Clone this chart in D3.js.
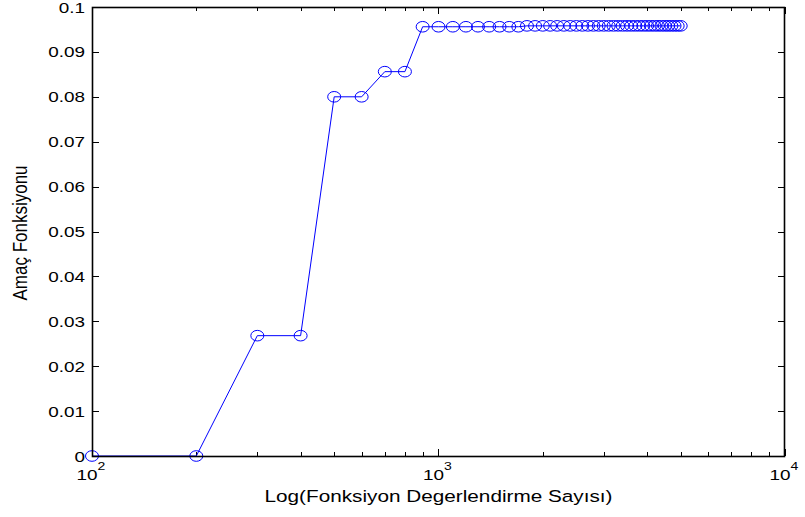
<!DOCTYPE html>
<html>
<head>
<meta charset="utf-8">
<script src="https://cdn.jsdelivr.net/npm/d3@7"></script>
<style>
  html, body { margin: 0; padding: 0; background: #fff; }
  svg { display: block; font-family: "Liberation Sans", Arial, Helvetica, sans-serif; }
</style>
</head>
<body>
<svg id="chart" width="805" height="517"></svg>
<script>
// Function evaluations (x) and objective value (y)
const evaluations = [
  100, 200, 300, 400, 500, 600, 700, 800, 900, 1000,
  1100, 1200, 1300, 1400, 1500, 1600, 1700, 1800, 1900, 2000,
  2100, 2200, 2300, 2400, 2500, 2600, 2700, 2800, 2900, 3000,
  3100, 3200, 3300, 3400, 3500, 3600, 3700, 3800, 3900, 4000,
  4100, 4200, 4300, 4400, 4500, 4600, 4700, 4800, 4900, 5000
];
const objective = [
  0, 0, 0.0268, 0.0268, 0.0800, 0.0800, 0.0856, 0.0856, 0.0956, 0.0956,
  0.0956, 0.0956, 0.0956, 0.0956, 0.0956, 0.0956, 0.0956, 0.0958, 0.0958, 0.0958,
  0.0958, 0.0958, 0.0958, 0.0958, 0.0958, 0.0958, 0.0958, 0.0958, 0.0958, 0.0958,
  0.0958, 0.0958, 0.0958, 0.0958, 0.0958, 0.0958, 0.0958, 0.0958, 0.0958, 0.0958,
  0.0958, 0.0958, 0.0958, 0.0958, 0.0958, 0.0958, 0.0958, 0.0958, 0.0958, 0.0958
];
const yTicks = [0, 0.01, 0.02, 0.03, 0.04, 0.05, 0.06, 0.07, 0.08, 0.09, 0.1];
const xMajorTicks = [100, 1000, 10000];
const xMinorTicks = [200, 300, 400, 500, 600, 700, 800, 900, 2000, 3000, 4000, 5000, 6000, 7000, 8000, 9000];
const xLabel = "Log(Fonksiyon Degerlendirme Sayısı)";
const yLabel = "Amaç Fonksiyonu";

const svg = d3.select("#chart");
const L = 92, R = 785, T = 7, B = 456;
const stretch = 1.22; // wide glyph proportions

const x = d3.scaleLog().domain([100, 10000]).range([L, R]);
const y = d3.scaleLinear().domain([0, 0.1]).range([B, T]);

const blue = "#0000ff";
const g = svg.append("g");

// Tick marks pointing inward on all four sides
const majorLen = 7, minorLen = 4;
yTicks.forEach(v => {
  const yy = Math.round(y(v)) + 0.5;
  g.append("line").attr("x1", L).attr("x2", L + majorLen).attr("y1", yy).attr("y2", yy).attr("stroke", "#000");
  g.append("line").attr("x1", R - majorLen).attr("x2", R).attr("y1", yy).attr("y2", yy).attr("stroke", "#000");
});
xMajorTicks.forEach(v => {
  const xx = Math.round(x(v)) + 0.5;
  g.append("line").attr("x1", xx).attr("x2", xx).attr("y1", B).attr("y2", B - majorLen).attr("stroke", "#000");
  g.append("line").attr("x1", xx).attr("x2", xx).attr("y1", T).attr("y2", T + majorLen).attr("stroke", "#000");
});
xMinorTicks.forEach(v => {
  const xx = Math.round(x(v)) + 0.5;
  g.append("line").attr("x1", xx).attr("x2", xx).attr("y1", B).attr("y2", B - minorLen).attr("stroke", "#000");
  g.append("line").attr("x1", xx).attr("x2", xx).attr("y1", T).attr("y2", T + minorLen).attr("stroke", "#000");
});

// Data line and circle markers
const line = d3.line().x((d, i) => x(evaluations[i])).y(d => y(d));
g.append("path").datum(objective)
  .attr("d", line)
  .attr("fill", "none")
  .attr("stroke", blue)
  .attr("stroke-width", 1);

g.selectAll("ellipse.m").data(objective).enter().append("ellipse")
  .attr("class", "m")
  .attr("cx", (d, i) => x(evaluations[i]))
  .attr("cy", d => y(d))
  .attr("rx", 6.5)
  .attr("ry", 5.3)
  .attr("fill", "none")
  .attr("stroke", blue)
  .attr("stroke-width", 1);

// Axes box
g.append("rect").attr("x", L + 0.5).attr("y", T + 0.5).attr("width", R - L - 1).attr("height", B - T)
  .attr("fill", "none").attr("stroke", "#000").attr("stroke-width", 1.6);

// Y tick labels
yTicks.forEach(v => {
  svg.append("text")
    .attr("transform", `translate(${L - 7},${y(v) + 5.5}) scale(${stretch},1)`)
    .attr("text-anchor", "end")
    .attr("font-size", 15.5)
    .text(v === 0 ? "0" : String(+v.toFixed(2)));
});

// X tick labels (10 with exponent)
xMajorTicks.forEach(v => {
  const t = svg.append("text")
    .attr("transform", `translate(${x(v) - 1},480) scale(${stretch},1)`)
    .attr("text-anchor", "middle")
    .attr("font-size", 15.5);
  t.append("tspan").text("10");
  t.append("tspan").attr("dy", -10).attr("font-size", 11.5).text(Math.round(Math.log10(v)));
});

// Axis titles
svg.append("text")
  .attr("transform", `translate(${(L + R) / 2},502) scale(${stretch},1)`)
  .attr("text-anchor", "middle")
  .attr("font-size", 17)
  .text(xLabel);

svg.append("text")
  .attr("transform", `translate(27,${233}) rotate(-90) scale(1,${stretch})`)
  .attr("text-anchor", "middle")
  .attr("font-size", 17)
  .text(yLabel);
</script>
</body>
</html>
